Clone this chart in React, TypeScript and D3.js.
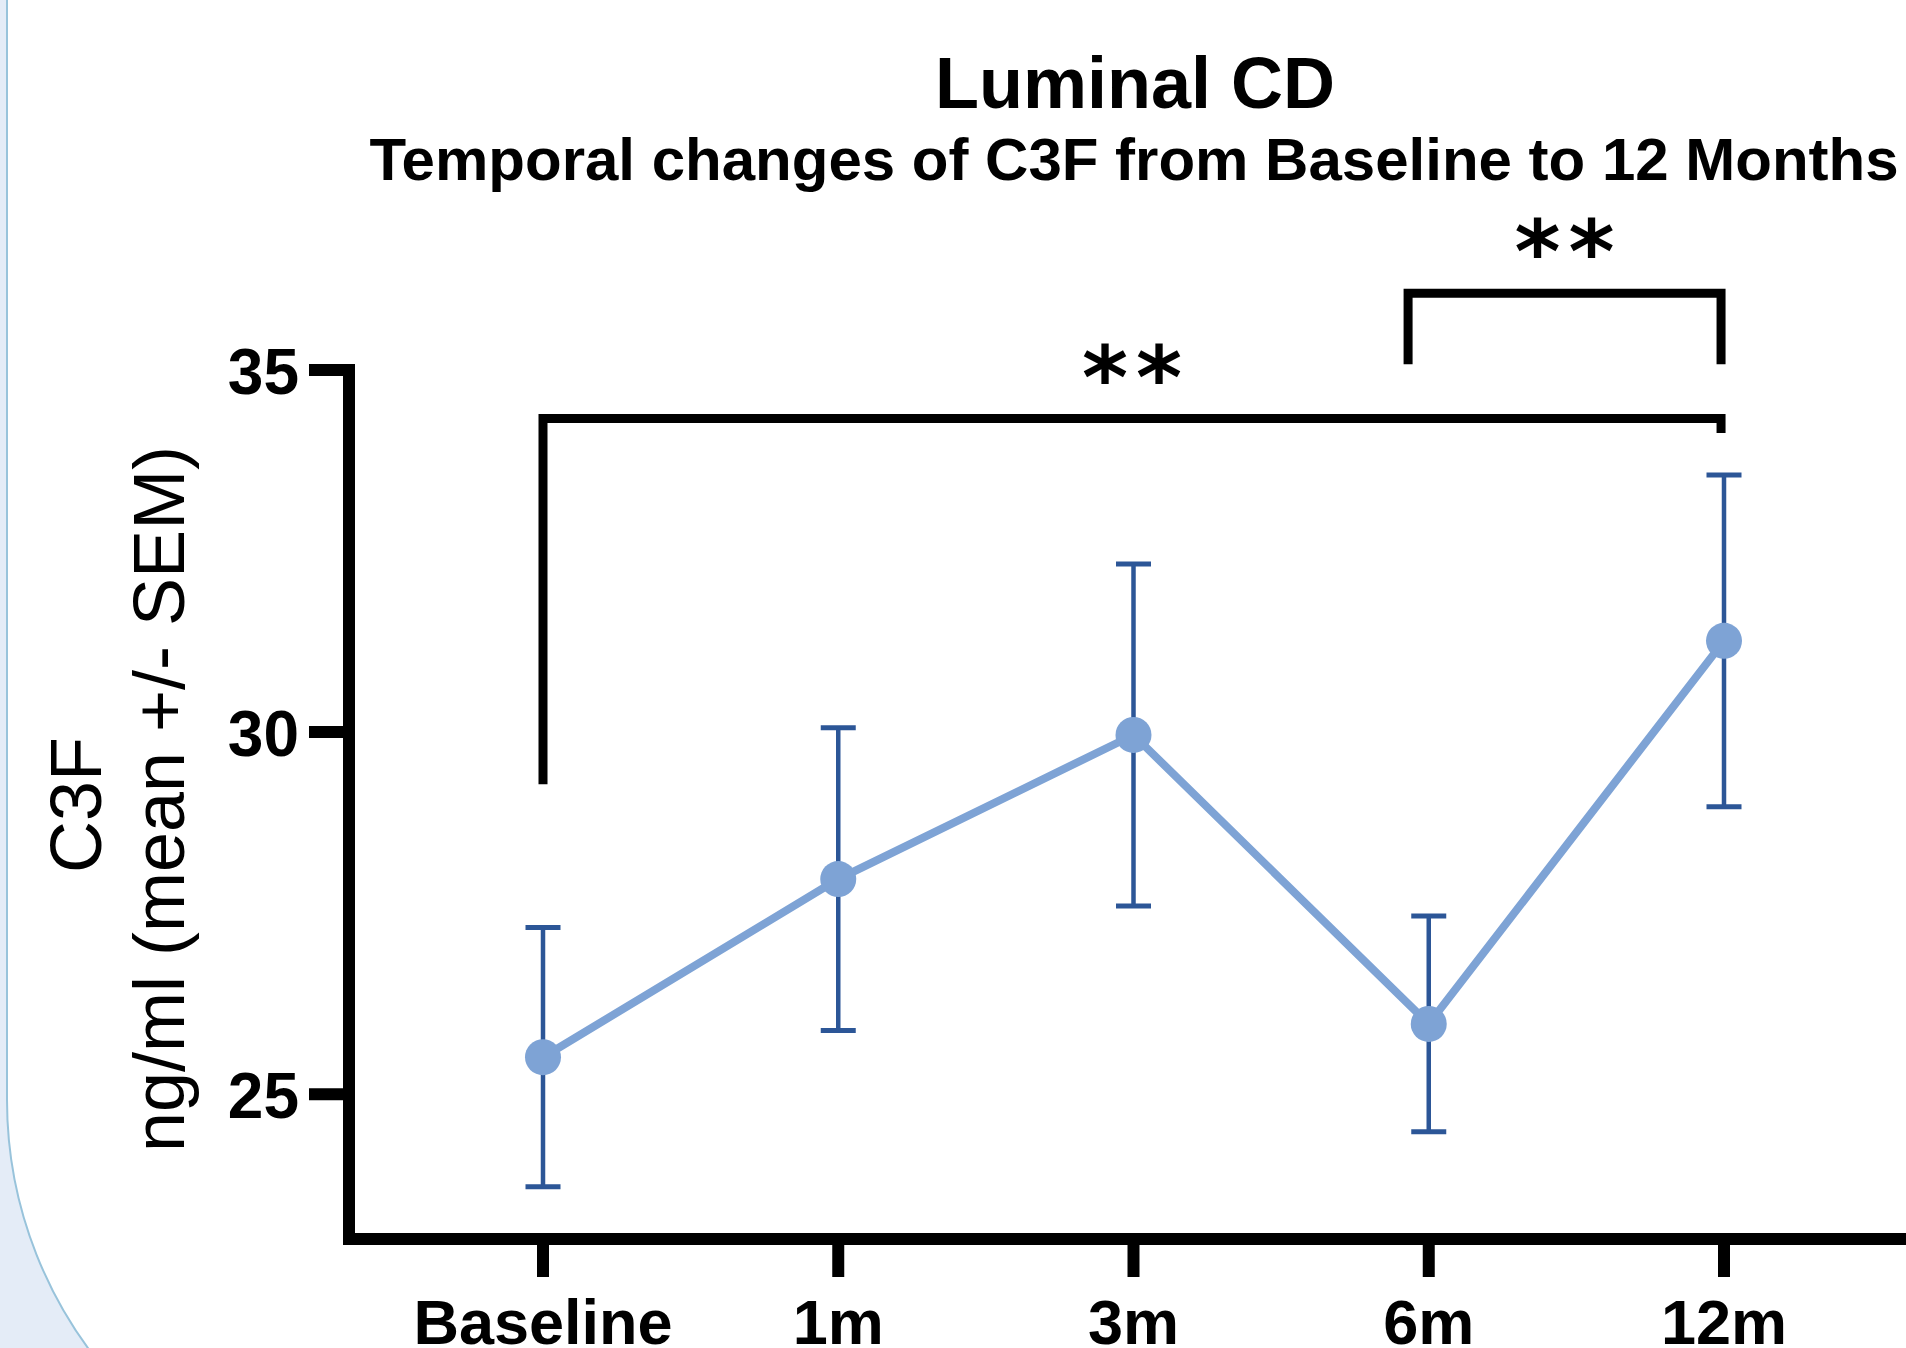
import React from 'react'
import * as d3 from 'd3'

const width = 1906
const height = 1348

// time points and C3F values (mean +/- SEM, ng/ml)
const categories = ['Baseline', '1m', '3m', '6m', '12m']
const means = [25.51, 27.97, 29.96, 25.97, 31.26]
const sems = [1.79, 2.09, 2.36, 1.49, 2.29]
const yTicks = [25, 30, 35]

// significance brackets (positions in category index / data units)
const bracketFrom = [0, 2.93]
const bracketTo = [3.99, 3.99]
const bracketTop = [34.33, 36.06]
const bracketLeftEnd = [29.28, 35.08]
const bracketRightEnd = [34.13, 35.08]
const bracketLabels = ['**', '**']

const font = '"Liberation Sans", Arial, sans-serif'
const lineColor = '#7ea3d5'
const errColor = '#2c5697'
const starSpacing = 8

const xScale = d3.scaleLinear().domain([0, categories.length - 1]).range([543, 1724])
const yScale = d3.scaleLinear().domain([23, 35]).range([1239, 370])

export default function App() {
  const x0 = 349
  const y0 = yScale(23)
  const yTopAxis = yScale(35) - 6

  const points = means.map((m, i) => ({ x: xScale(i), y: yScale(m), lo: yScale(m - sems[i]), hi: yScale(m + sems[i]) }))
  const line = d3.line<{ x: number; y: number }>().x(d => d.x).y(d => d.y)

  return (
    <svg
      width={width}
      height={height}
      style={{ position: 'absolute', left: 0, top: 0, display: 'block', background: '#fff' }}
    >
      {/* slide panel corner on the left */}
      <path d={`M0,0 H7 V1100 A420,420 0 0 0 427,1520 H0 Z`} fill="#e4ecf7" />
      <path d={`M7,0 V1100 A420,420 0 0 0 427,1520`} fill="none" stroke="#98c3db" strokeWidth={2} />

      {/* titles */}
      <text x={1135} y={108} textAnchor="middle" fontFamily={font} fontWeight="bold" fontSize={72}>
        Luminal CD
      </text>
      <text x={1134} y={180} textAnchor="middle" fontFamily={font} fontWeight="bold" fontSize={60}>
        Temporal changes of C3F from Baseline to 12 Months
      </text>

      {/* axes */}
      <path
        d={`M${x0},${yTopAxis} V${y0} H${width + 20}`}
        fill="none"
        stroke="#000"
        strokeWidth={12}
        strokeLinejoin="miter"
      />
      {yTicks.map(t => (
        <g key={t}>
          <line x1={309} x2={x0} y1={yScale(t)} y2={yScale(t)} stroke="#000" strokeWidth={12} />
          <text x={299} y={yScale(t) + 24} textAnchor="end" fontFamily={font} fontWeight="bold" fontSize={64}>
            {t}
          </text>
        </g>
      ))}
      {categories.map((c, i) => (
        <g key={c}>
          <line x1={xScale(i)} x2={xScale(i)} y1={y0} y2={1277} stroke="#000" strokeWidth={12} />
          <text x={xScale(i)} y={1344} textAnchor="middle" fontFamily={font} fontWeight="bold" fontSize={63}>
            {c}
          </text>
        </g>
      ))}

      {/* y axis title */}
      <g transform="translate(101,805) rotate(-90)">
        <text x={0} y={0} textAnchor="middle" fontFamily={font} fontSize={72}>
          C3F
        </text>
      </g>
      <g transform="translate(184,799) rotate(-90)">
        <text x={0} y={0} textAnchor="middle" fontFamily={font} fontSize={72}>
          ng/ml (mean +/- SEM)
        </text>
      </g>

      {/* brackets */}
      {bracketLabels.map((lab, i) => {
        const xa = xScale(bracketFrom[i])
        const xb = xScale(bracketTo[i])
        const yt = yScale(bracketTop[i])
        return (
          <g key={i}>
            <path
              d={`M${xa},${yScale(bracketLeftEnd[i])} V${yt} H${xb} V${yScale(bracketRightEnd[i])}`}
              fill="none"
              stroke="#000"
              strokeWidth={9}
              strokeLinejoin="miter"
            />
            <text
              x={(xa + xb) / 2 + starSpacing / 2}
              y={yt - 11}
              textAnchor="middle"
              fontFamily='"DejaVu Sans", sans-serif'
              fontWeight="bold"
              fontSize={88}
              letterSpacing={starSpacing}
            >
              {lab}
            </text>
          </g>
        )
      })}

      {/* error bars */}
      {points.map((p, i) => (
        <g key={i} stroke={errColor} strokeWidth={4.5}>
          <line x1={p.x} x2={p.x} y1={p.lo} y2={p.hi} />
          <line x1={p.x - 17.5} x2={p.x + 17.5} y1={p.hi} y2={p.hi} strokeWidth={5} />
          <line x1={p.x - 17.5} x2={p.x + 17.5} y1={p.lo} y2={p.lo} strokeWidth={5} />
        </g>
      ))}

      {/* mean line and markers */}
      <path d={line(points) ?? ''} fill="none" stroke={lineColor} strokeWidth={8} />
      {points.map((p, i) => (
        <circle key={i} cx={p.x} cy={p.y} r={18} fill={lineColor} />
      ))}
    </svg>
  )
}
